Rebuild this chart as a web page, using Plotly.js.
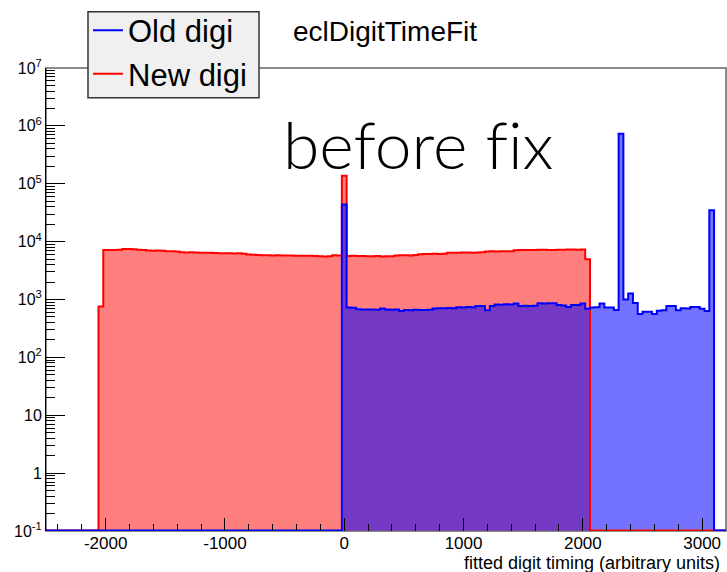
<!DOCTYPE html>
<html><head><meta charset="utf-8">
<script src="https://cdn.plot.ly/plotly-3.0.1.min.js"></script>
<style>html,body{margin:0;padding:0;background:#fff}#chart{width:727px;height:572px}
svg text{font-variant-ligatures:none;font-feature-settings:"liga" 0;}</style>
</head><body><div id="chart"></div>
<script>
// ---- data (histogram bin contents, bin width 40 units) ----
const binWidth = 40;
const newDigiFirstCenter = -2040;
const newDigiCounts = [760,
  7180,7200,7150,7250,7450,7480,7400,7250,7200,7000,6950,7000,6980,6800,6820,6750,6550,6500,6550,6480,
  6450,6420,6450,6380,6300,6280,6320,6250,6300,6200,5980,5950,5900,5800,5820,5780,5800,5760,5750,5750,
  5700,5720,5680,5700,5650,5570,5550,5580,5800,5780,
  137000,
  5650,5680,5620,5660,5600,5580,5620,5550,5600,5570,5750,5800,5820,5780,5850,6050,6100,6120,6150,6100,
  6200,6400,6450,6420,6480,6500,6450,6520,6550,6750,6800,6780,6820,6850,6800,7100,7150,7180,7200,7150,
  7220,7250,7180,7200,7220,7250,7300,7280,7250,7300,4940];
const oldDigiFirstCenter = 0;
const oldDigiCounts = [44000,
  730,720,680,675,670,672,668,698,672,665,670,635,660,655,662,658,660,665,700,708,
  705,712,706,736,730,740,735,775,770,655,775,820,815,825,818,850,775,780,770,778,
  860,855,862,858,800,790,740,800,800,850,690,
  730,735,850,730,728,660,730000,1000,1270,870,560,615,612,560,640,650,775,770,650,705,
  700,740,745,690,630,35000];
const seriesNames = ['Old digi', 'New digi'];
const xTickVals = [-2000, -1000, 0, 1000, 2000, 3000];
const xTickText = ['-2000', '-1000', '0', '1000', '2000', '3000'];
const yTickVals = [0.1, 1, 10, 100, 1e3, 1e4, 1e5, 1e6, 1e7];
const yTickText = ['10<sup>-1</sup>', '1', '10', '10<sup>2</sup>', '10<sup>3</sup>', '10<sup>4</sup>', '10<sup>5</sup>', '10<sup>6</sup>', '10<sup>7</sup>'];

// ---- drawing ----
const xRange = [-2500, 3200];
const floorVal = 0.102;
function outline(first, counts) {
  const xs = [xRange[0]], ys = [floorVal];
  counts.forEach((c, i) => { xs.push(first - binWidth / 2 + i * binWidth); ys.push(c); });
  xs.push(first - binWidth / 2 + counts.length * binWidth); ys.push(floorVal);
  xs.push(xRange[1]); ys.push(floorVal);
  return {x: xs, y: ys};
}
const red = outline(newDigiFirstCenter, newDigiCounts);
const blue = outline(oldDigiFirstCenter, oldDigiCounts);

const minorY = [];
for (let k = -1; k < 7; k++) for (let m = 2; m <= 9; m++) minorY.push(m * Math.pow(10, k));

const traces = [
  {x: red.x, y: red.y, type: 'scatter', mode: 'lines', line: {shape: 'hv', width: 0, color: 'rgba(0,0,0,0)'},
   fill: 'toself', fillcolor: 'rgba(255,0,0,0.5)', showlegend: false, hoverinfo: 'skip'},
  {x: blue.x, y: blue.y, type: 'scatter', mode: 'lines', line: {shape: 'hv', width: 0, color: 'rgba(0,0,0,0)'},
   fill: 'toself', fillcolor: 'rgba(0,0,255,0.55)', showlegend: false, hoverinfo: 'skip'},
  {x: red.x, y: red.y, type: 'scatter', mode: 'lines', name: seriesNames[1], legendrank: 2,
   line: {shape: 'hv', width: 2, color: '#ff0000'}},
  {x: blue.x, y: blue.y, type: 'scatter', mode: 'lines', name: seriesNames[0], legendrank: 1,
   line: {shape: 'hv', width: 2, color: '#0000ff'}}
];

const layout = {
  width: 727, height: 572,
  margin: {l: 46, r: 1, t: 68, b: 41, pad: 0},
  paper_bgcolor: '#ffffff', plot_bgcolor: '#ffffff',
  font: {family: 'Liberation Sans, Arial, Helvetica, sans-serif', color: '#000', size: 16},
  title: {text: 'eclDigitTimeFit', font: {size: 28, color: '#000'}, x: 293 / 727, xanchor: 'left',
          y: 1 - 31 / 572, yanchor: 'middle'},
  xaxis: {range: xRange, tickmode: 'array', tickvals: xTickVals, ticktext: xTickText,
          ticks: 'inside', ticklen: 13, tickwidth: 1, tickcolor: '#000',
          minor: {tickmode: 'linear', tick0: 0, dtick: 200, ticks: 'inside', ticklen: 7, tickcolor: '#000', showgrid: false},
          showgrid: false, zeroline: false, showline: false, tickfont: {size: 17}},
  yaxis: {type: 'log', range: [-1, 7], tickmode: 'array', tickvals: yTickVals, ticktext: yTickText,
          ticks: 'inside', ticklen: 19, tickwidth: 1, tickcolor: '#000',
          minor: {tickmode: 'array', tickvals: minorY, ticks: 'inside', ticklen: 9, tickcolor: '#000', showgrid: false},
          showgrid: false, zeroline: false, showline: true, linecolor: '#000', linewidth: 1, tickfont: {size: 16}},
  legend: {x: 42 / 680, y: (531 - 3.7) / 463, xanchor: 'left', yanchor: 'top',
           bgcolor: 'rgba(0,0,0,0)', borderwidth: 0, font: {size: 31},
           itemwidth: 30, tracegroupgap: 0},
  shapes: [
    {type: 'rect', xref: 'paper', yref: 'paper', x0: 0, x1: 1, y0: 0, y1: 1,
     line: {color: '#666', width: 1.5}, layer: 'below'},
    {type: 'rect', xref: 'paper', yref: 'paper', x0: (88 - 46) / 680, x1: (259 - 46) / 680,
     y0: (531 - 97.7) / 463, y1: (531 - 11.7) / 463,
     fillcolor: '#f0f0f0', line: {color: '#333', width: 1.5}, layer: 'above'}
  ],
  annotations: [
    {text: 'before fix', xref: 'paper', yref: 'paper', x: 0.5485, y: 0.838, xanchor: 'center', yanchor: 'middle',
     showarrow: false, font: {family: 'Lato, sans-serif', size: 66, color: '#000', weight: 300}},
    {text: 'fitted digit timing (arbitrary units)', xref: 'paper', yref: 'paper', x: 0.994, y: -0.069,
     xanchor: 'right', yanchor: 'middle', showarrow: false, font: {size: 18, color: '#000'}}
  ]
};
Plotly.newPlot('chart', traces, layout, {displayModeBar: false, staticPlot: true});
</script></body></html>
